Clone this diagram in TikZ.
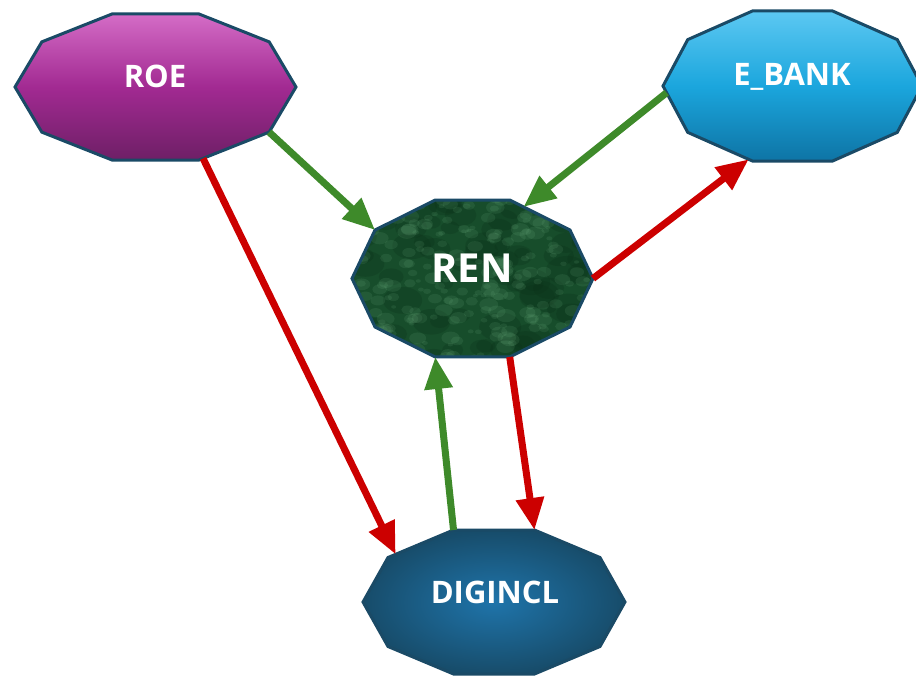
\documentclass[tikz,border=0pt]{standalone}
\usepackage{fontspec}
\setmainfont{Open Sans}
\usetikzlibrary{shapes.geometric,arrows.meta}
\definecolor{bordc}{HTML}{1A4A66}
\definecolor{roetop}{HTML}{D46CC6}
\definecolor{roemid}{HTML}{A22A92}
\definecolor{roebot}{HTML}{6E1F66}
\definecolor{ebtop}{HTML}{5CC8F2}
\definecolor{ebmid}{HTML}{1BA6DD}
\definecolor{ebbot}{HTML}{0E74A5}
\definecolor{renbase}{HTML}{174D2B}
\definecolor{renlight}{HTML}{7CC08E}
\definecolor{rendark}{HTML}{0B3018}
\definecolor{diginner}{HTML}{1F74AA}
\definecolor{digouter}{HTML}{174C6A}
\definecolor{arrgreen}{HTML}{3E8A2A}
\definecolor{arrred}{HTML}{CC0000}
\tikzset{
  deca/.style={regular polygon, regular polygon sides=10, minimum size=200pt,
    inner sep=0pt, outer sep=0pt, draw=bordc, line width=3pt, transform shape},
  lbl/.style={text=white, anchor=base, inner sep=0pt, font=\fontsize{31}{33}\selectfont\bfseries},
  garrow/.style={draw=arrgreen, line width=7pt, -{Triangle[length=32pt,width=27pt]}},
  rarrow/.style={draw=arrred, line width=7pt, -{Triangle[length=32pt,width=27pt]}},
}
\begin{document}
\begin{tikzpicture}[x=1pt,y=-1pt]
\useasboundingbox (0,0) rectangle (916,675);
\clip (0,0) rectangle (916,675);
\pgfmathsetseed{11}
% ROE
\begin{scope}[shift={(155.5,87)}, xscale=1.405, yscale=0.768]
  \node[deca, top color=roetop, bottom color=roebot, middle color=roemid] (roe) at (0,0) {};
\end{scope}
% E_BANK
\begin{scope}[shift={(792.5,86)}, xscale=1.295, yscale=0.789]
  \node[deca, top color=ebtop, bottom color=ebbot, middle color=ebmid] (ebank) at (0,0) {};
\end{scope}
% REN
\begin{scope}[shift={(472.5,278.5)}, xscale=1.205, yscale=0.825]
  \node[deca, fill=renbase, path picture={
    \foreach \i in {1,...,70}{
      \fill[rendark, opacity=0.25] (rand*100, rand*100) circle ({6+12*rnd});
    }
    \foreach \i in {1,...,260}{
      \fill[renlight, opacity=0.12] (rand*100, rand*100) circle ({2+6*rnd});
    }
  }] (ren) at (0,0) {};
\end{scope}
% DIGINCL
\begin{scope}[shift={(494,602)}, xscale=1.31, yscale=0.757]
  \node[deca, inner color=diginner, outer color=digouter] (dig) at (0,0) {};
\end{scope}
% labels
\node[lbl] (roelbl) at (155,87) {ROE};
\node[lbl] (eblbl) at (792,85) {E\_BANK};
\node[lbl, font=\fontsize{40}{42}\selectfont\bfseries] (renlbl) at (472,282) {REN};
\node[lbl] (diglbl) at (495,603) {DIGINCL};
% connectors
\draw[garrow] (roe.-36) -- (ren.144);
\draw[garrow] (ebank.185) -- (ren.64);
\draw[rarrow] (ren.0) -- (ebank.-110);
\draw[rarrow] (roe.-70) -- (dig.140);
\draw[garrow] (dig.108) -- (ren.252);
\draw[rarrow] (ren.288) -- (dig.72);
\end{tikzpicture}
\end{document}
